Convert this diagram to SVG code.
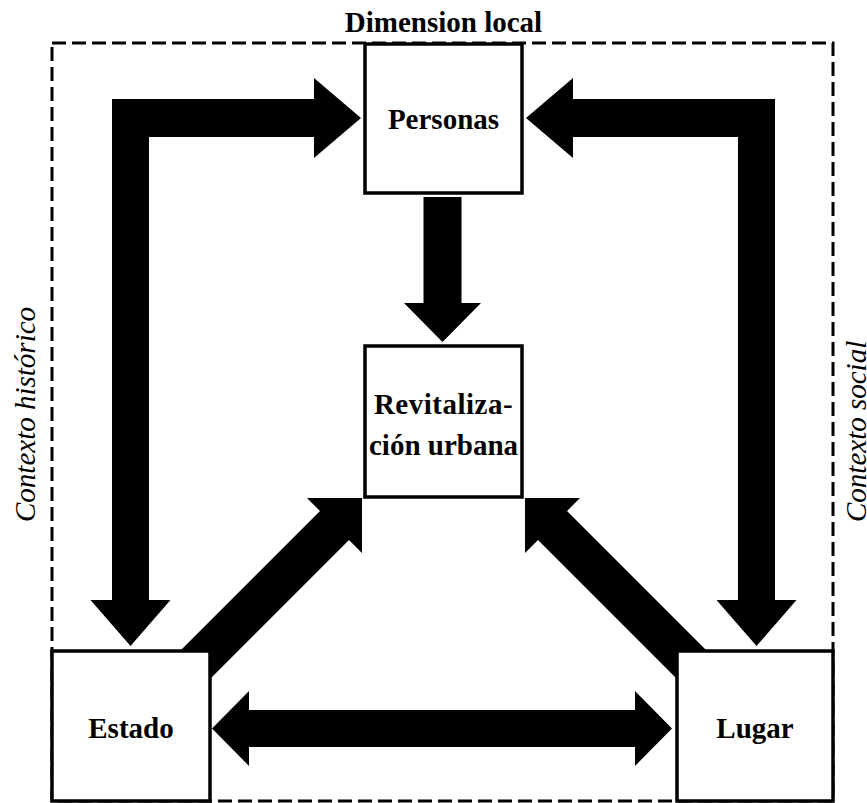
<svg xmlns="http://www.w3.org/2000/svg" width="867" height="803" viewBox="0 0 867 803">
  <style>
    .frame { fill: none; stroke: #000; stroke-width: 3; stroke-dasharray: 14 6; }
    .box { fill: #fff; stroke: #000; stroke-width: 3.5; }
    .arrow { fill: #000; stroke: none; }
    .label { font-family: "Liberation Serif", "Times New Roman", serif; font-weight: bold; font-size: 29px; fill: #000; text-anchor: middle; }
    .side { font-family: "Liberation Serif", "Times New Roman", serif; font-style: italic; font-size: 29px; fill: #000; }
  </style>
  <rect width="867" height="803" fill="#fff"/>

  <!-- local dimension frame -->
  <g id="frame">
    <rect class="frame" x="52" y="43" width="781" height="758"/>
    <text class="label" x="443.5" y="32">Dimension local</text>
    <text class="side" transform="translate(35,522) rotate(-90)">Contexto histórico</text>
    <text class="side" transform="translate(866,522) rotate(-90)">Contexto social</text>
  </g>

  <!-- block arrows -->
  <g id="connectors">
    <!-- Estado <-> Personas (elbow, both ends) -->
    <polygon class="arrow" points="361,118 314,158 314,137 149,137 149,600 170.5,600 130.5,646 90.5,600 112,600 112,99 314,99 314,78"/>
    <!-- Lugar <-> Personas (elbow, both ends) -->
    <polygon class="arrow" points="526,118 573,158 573,137 738,137 738,600 716.5,600 756.5,646 796.5,600 775,600 775,99 573,99 573,78"/>
    <!-- Personas -> Revitalizacion -->
    <polygon class="arrow" points="423.5,197 461.5,197 461.5,303 481,303 442.5,342 404,303 423.5,303"/>
    <!-- Estado -> Revitalizacion -->
    <polygon class="arrow" points="362,498 362,553 349,540 194.5,694.5 165.5,665.5 320,511 307,498"/>
    <!-- Lugar -> Revitalizacion -->
    <polygon class="arrow" points="525,498 525,553 538,540 692.5,694.5 721.5,665.5 567,511 580,498"/>
    <!-- Estado <-> Lugar -->
    <polygon class="arrow" points="212,728.5 249,691 249,710 635,710 635,691 672,728.5 635,766 635,747 249,747 249,766"/>
  </g>

  <g id="personas">
    <rect class="box" x="365" y="44" width="157" height="149"/>
    <text class="label" x="443.5" y="129">Personas</text>
  </g>

  <g id="revitalizacion">
    <rect class="box" x="365" y="346" width="157" height="151"/>
    <text class="label" x="443.5" y="414" letter-spacing="0.5">Revitaliza-</text>
    <text class="label" x="443.5" y="455">ción urbana</text>
  </g>

  <g id="estado">
    <rect class="box" x="52" y="651" width="158" height="150"/>
    <text class="label" x="131" y="738">Estado</text>
  </g>

  <g id="lugar">
    <rect class="box" x="677" y="651" width="156" height="150"/>
    <text class="label" x="755" y="738">Lugar</text>
  </g>
</svg>
